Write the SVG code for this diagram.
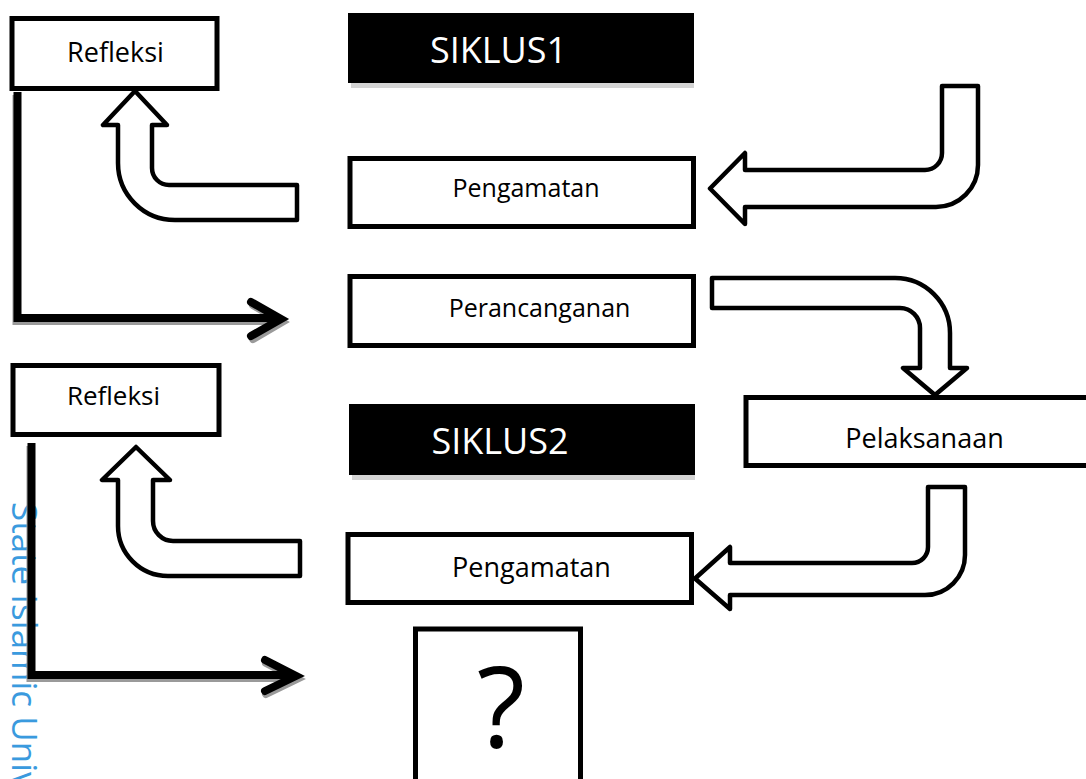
<svg xmlns="http://www.w3.org/2000/svg" width="1086" height="779" viewBox="0 0 1086 779">
<style>
.box{fill:#fff;stroke:#000;stroke-width:5}
.lbl{font-family:"Open Sans","Liberation Sans",sans-serif;fill:#000;text-anchor:middle}
.hdr{font-family:"Open Sans","Liberation Sans",sans-serif;fill:#fff;text-anchor:middle;font-size:36px}
.blk{fill:#fff;stroke:#000;stroke-width:4.5;stroke-linejoin:round}
.ln{fill:none;stroke:#000;stroke-width:8;stroke-linejoin:miter}
.lns{fill:none;stroke:#9a9a9a;stroke-width:8}
.chev{fill:none;stroke:#000;stroke-width:8;stroke-linecap:round;stroke-linejoin:miter}
.chevs{fill:none;stroke:#9a9a9a;stroke-width:8;stroke-linecap:round}
.wm{font-family:"Open Sans","Liberation Sans",sans-serif;font-size:35px;fill:#3a9ade}
</style>
<rect width="1086" height="779" fill="#fff"/>
<text class="wm" transform="translate(12,502) rotate(90)">State Islamic Univ</text>

<g id="refleksi1">
<rect class="box" x="12" y="18.5" width="205" height="70"/>
<text class="lbl" x="115.5" y="62" font-size="27">Refleksi</text>
</g>
<g id="siklus1">
<rect x="351" y="18" width="343" height="70" fill="#d4d4d4"/>
<rect x="348" y="13" width="346" height="70" fill="#000"/>
<text class="hdr" x="498.5" y="63">SIKLUS1</text>
</g>
<g id="pengamatan1">
<rect class="box" x="350" y="158.5" width="343.5" height="68"/>
<text class="lbl" x="526" y="197" font-size="25">Pengamatan</text>
</g>
<g id="perancanganan">
<rect class="box" x="350" y="276.5" width="343.5" height="69"/>
<text class="lbl" x="539.5" y="317" font-size="25">Perancanganan</text>
</g>
<g id="refleksi2">
<rect class="box" x="13" y="365.5" width="206" height="69"/>
<text class="lbl" x="113.5" y="405" font-size="26">Refleksi</text>
</g>
<g id="siklus2">
<rect x="352" y="409" width="343" height="71" fill="#d4d4d4"/>
<rect x="349" y="404" width="346" height="71" fill="#000"/>
<text class="hdr" x="500" y="454">SIKLUS2</text>
</g>
<g id="pelaksanaan">
<rect class="box" x="746" y="397.5" width="400" height="68"/>
<text class="lbl" x="924.5" y="448" font-size="27">Pelaksanaan</text>
</g>
<g id="pengamatan2">
<rect class="box" x="348" y="534.5" width="343.5" height="68"/>
<text class="lbl" x="531.5" y="577" font-size="27">Pengamatan</text>
</g>
<g id="tanya">
<rect class="box" x="415.5" y="629" width="165" height="200"/>
<text class="lbl" x="501" y="747" font-size="112">?</text>
</g>

<g id="connectors">
<path class="lns" d="M16.5,95 V321 H279"/>
<path class="chevs" d="M253,305 L282,322 L253,339"/>
<path class="ln" d="M17.5,92 V318 H278"/>
<path class="chev" d="M251,302 L281,319 L251,336"/>

<path class="lns" d="M30.5,446 V678 H294"/>
<path class="chevs" d="M266,663 L297,679 L266,694"/>
<path class="ln" d="M31.5,443 V675 H293"/>
<path class="chev" d="M265,660 L296,676 L265,691"/>

<path class="blk" d="M297,185 H169 A17,17 0 0 1 152,168 V125 H167 L135,91 L103,125 H118 V163 A57,57 0 0 0 175,220 H297 Z"/>
<path class="blk" d="M942,86 H978 V165 A42,42 0 0 1 936,207 H745 V224 L710,188.5 L745,153 V170 H925 A17,17 0 0 0 942,153 Z"/>
<path class="blk" d="M712,278 H895 A55,55 0 0 1 950,333 V368 H967 L935,395 L903,368 H920 V328 A20,20 0 0 0 900,308 H712 Z"/>
<path class="blk" d="M928,487 H965 V555 A40,40 0 0 1 925,595 H730 V609 L695,578.5 L730,547 V563 H912 A16,16 0 0 0 928,547 Z"/>
<path class="blk" d="M300,541 H173 A20,20 0 0 1 153,521 V480 H170 L136,447 L102,480 H118 V526 A50,50 0 0 0 168,576 H300 Z"/>
</g>
</svg>
